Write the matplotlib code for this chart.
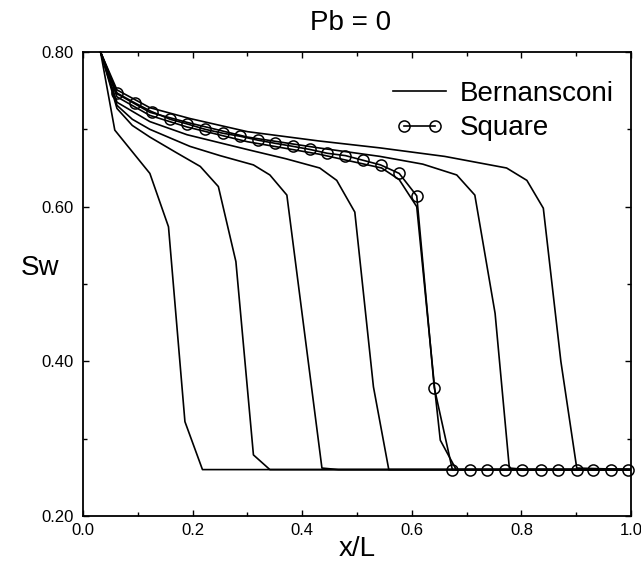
import numpy as np
import matplotlib
matplotlib.use('Agg')
import matplotlib.pyplot as plt
import matplotlib.transforms as mtransforms
from matplotlib.lines import Line2D
from matplotlib.legend_handler import HandlerLine2D
from matplotlib.ticker import MultipleLocator, FormatStrFormatter

plt.rcParams['font.family'] = ['Liberation Sans', 'DejaVu Sans']

# Bernansconi profiles (one per time level)
b1_x = [0.032, 0.058, 0.122, 0.156, 0.186, 0.218, 1.0]
b1_y = [0.800, 0.699, 0.643, 0.574, 0.322, 0.260, 0.260]

b2_x = [0.032, 0.062, 0.090, 0.122, 0.170, 0.214, 0.247, 0.279, 0.311, 0.341, 1.0]
b2_y = [0.800, 0.727, 0.705, 0.690, 0.670, 0.652, 0.626, 0.529, 0.279, 0.260, 0.260]

b3_x = [0.032, 0.062, 0.090, 0.122, 0.195, 0.250, 0.311, 0.341, 0.372, 0.436, 0.466, 1.0]
b3_y = [0.800, 0.731, 0.713, 0.700, 0.678, 0.666, 0.654, 0.641, 0.615, 0.262, 0.260, 0.260]

b4_x = [0.032, 0.062, 0.122, 0.190, 0.305, 0.370, 0.432, 0.463, 0.496, 0.530, 0.558, 1.0]
b4_y = [0.800, 0.735, 0.710, 0.693, 0.673, 0.662, 0.650, 0.634, 0.593, 0.367, 0.260, 0.260]

b5_x = [0.032, 0.062, 0.122, 0.190, 0.300, 0.430, 0.545, 0.577, 0.609, 0.642, 0.652, 0.681, 1.0]
b5_y = [0.800, 0.742, 0.718, 0.703, 0.684, 0.668, 0.650, 0.635, 0.600, 0.363, 0.298, 0.260, 0.260]

b6_x = [0.032, 0.062, 0.122, 0.190, 0.300, 0.430, 0.542, 0.620, 0.682, 0.715, 0.752, 0.778, 0.810, 1.0]
b6_y = [0.800, 0.746, 0.722, 0.709, 0.690, 0.676, 0.665, 0.655, 0.641, 0.615, 0.462, 0.262, 0.260, 0.260]

b7_x = [0.032, 0.062, 0.122, 0.195, 0.300, 0.430, 0.542, 0.660, 0.773, 0.810, 0.840, 0.872, 0.901, 1.0]
b7_y = [0.800, 0.751, 0.728, 0.714, 0.697, 0.685, 0.676, 0.665, 0.650, 0.634, 0.598, 0.400, 0.262, 0.260]

# Square solution (circles)
sq_x = [0.032, 0.062, 0.095, 0.125, 0.159, 0.190, 0.223, 0.255, 0.287, 0.319, 0.350,
        0.383, 0.414, 0.446, 0.479, 0.511, 0.543, 0.577, 0.609, 0.641, 0.674,
        0.706, 0.738, 0.770, 0.802, 0.835, 0.867, 0.901, 0.931, 0.963, 0.995]
sq_y = [0.800, 0.747, 0.734, 0.723, 0.713, 0.707, 0.700, 0.695, 0.691, 0.686, 0.682,
        0.678, 0.674, 0.669, 0.666, 0.660, 0.654, 0.643, 0.614, 0.366, 0.260,
        0.260, 0.260, 0.260, 0.260, 0.260, 0.260, 0.260, 0.260, 0.260, 0.260]

fig = plt.figure(figsize=(6.41, 5.66), dpi=100)
ax = fig.add_axes([83/641, 50/566, 548/641, 464/566])

for bx, by in [(b1_x, b1_y), (b2_x, b2_y), (b3_x, b3_y), (b4_x, b4_y),
               (b5_x, b5_y), (b6_x, b6_y), (b7_x, b7_y)]:
    ax.plot(bx, by, color='black', lw=1.2)

ax.plot(sq_x, sq_y, color='black', lw=1.2, marker='o', ms=8, mfc='none',
        mec='black', mew=1.1, markevery=list(range(1, len(sq_x))), clip_on=False)

ax.set_xlim(0, 1.0)
ax.set_ylim(0.2, 0.8)
ax.xaxis.set_major_locator(MultipleLocator(0.2))
ax.xaxis.set_minor_locator(MultipleLocator(0.1))
ax.yaxis.set_major_locator(MultipleLocator(0.2))
ax.yaxis.set_minor_locator(MultipleLocator(0.1))
ax.xaxis.set_major_formatter(FormatStrFormatter('%.1f'))
ax.yaxis.set_major_formatter(FormatStrFormatter('%.2f'))
ax.tick_params(which='both', direction='in', top=True, right=True, labelsize=12, width=1.0)
ax.tick_params(which='major', length=4)
ax.tick_params(which='minor', length=3)
ax.tick_params(axis='y', which='major', pad=7)
ax.tick_params(axis='x', which='major', pad=5)
for s in ax.spines.values():
    s.set_linewidth(1.3)

# nudge the "1.0" label so it stays inside the picture
fig.canvas.draw()
last = ax.get_xticklabels()[-1]
last.set_transform(last.get_transform() +
                   mtransforms.ScaledTranslation(-2.5 / 72, 0, fig.dpi_scale_trans))

fig.text(351/641, 1 - 23/566, 'Pb = 0', fontsize=20, ha='center', va='center')
fig.text(40/641, 1 - 268/566, 'Sw', fontsize=20, ha='center', va='center')
fig.text(357/641, 1 - 549/566, 'x/L', fontsize=20, ha='center', va='center')

h_bern = Line2D([], [], color='black', lw=1.2)
h_sq = Line2D([], [], color='black', lw=1.2, marker='o', ms=8, mfc='none', mew=1.1)
ax.legend([h_bern, h_sq], ['Bernansconi', 'Square'], loc='upper left',
          bbox_to_anchor=((385 - 83) / 548, (516 - 81) / 464),
          frameon=False, fontsize=20, numpoints=2, handlelength=2.5, handletextpad=0.2,
          labelspacing=0.3, borderaxespad=0, borderpad=0,
          handler_map={h_sq: HandlerLine2D(numpoints=2, marker_pad=0.7)})

fig.savefig('out.png', dpi=100)
